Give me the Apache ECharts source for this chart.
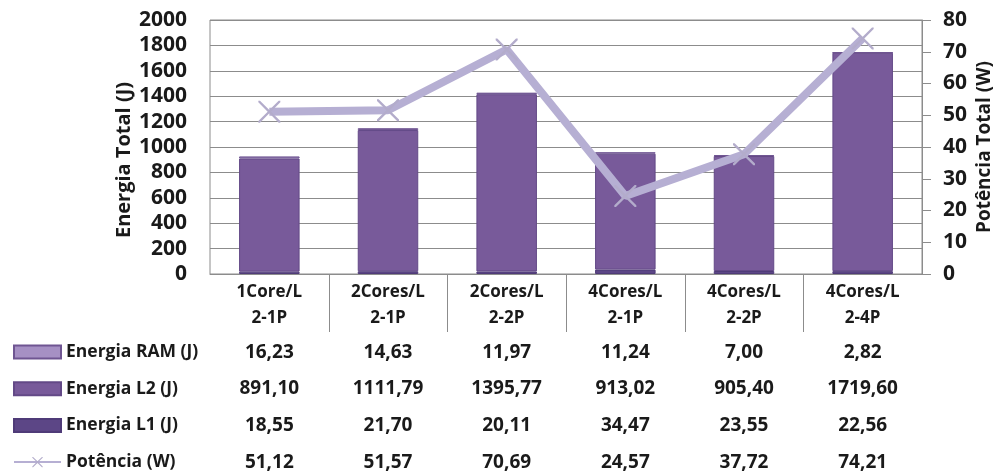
<!DOCTYPE html>
<html><head><meta charset="utf-8">
<script src="https://cdn.jsdelivr.net/npm/echarts@6/dist/echarts.min.js"></script>
<style>html,body{margin:0;padding:0;background:#fff}#c{width:993px;height:473px}</style>
</head><body><div id="c"></div>
<script>
const categories = ['1Core/L\n2-1P', '2Cores/L\n2-1P', '2Cores/L\n2-2P', '4Cores/L\n2-1P', '4Cores/L\n2-2P', '4Cores/L\n2-4P'];
const energiaRAM = [16.23, 14.63, 11.97, 11.24, 7.00, 2.82];
const energiaL2 = [891.10, 1111.79, 1395.77, 913.02, 905.40, 1719.60];
const energiaL1 = [18.55, 21.70, 20.11, 34.47, 23.55, 22.56];
const potencia = [51.12, 51.57, 70.69, 24.57, 37.72, 74.21];
const leftTicks = {min: 0, max: 2000, interval: 200};
const rightTicks = {min: 0, max: 80, interval: 10};

const FONT = 'Open Sans';
const TXT = '#1a1a1a';
const fmt = v => v.toFixed(2).replace('.', ',');
const xPath = 'path://M0,0 L1.5,0 L10,8.5 L18.5,0 L20,0 L20,1.5 L11.5,10 L20,18.5 L20,20 L18.5,20 L10,11.5 L1.5,20 L0,20 L0,18.5 L8.5,10 L0,1.5 Z';

const chart = echarts.init(document.getElementById('c'));
const option = {
  animation: false,
  backgroundColor: '#fff',
  textStyle: {fontFamily: FONT},
  grid: {left: 210, right: 71, top: 20, bottom: 199, show: true, borderColor: '#8c8c8c', borderWidth: 1, containLabel: false, outerBoundsMode: 'none'},
  legend: {
    orient: 'vertical', left: 13, top: 342, bottom: 0, padding: 0,
    itemWidth: 47, itemHeight: 13, itemGap: 16.7,
    data: [
      {name: 'Energia RAM (J)', icon: 'rect'},
      {name: 'Energia L2 (J)', icon: 'rect'},
      {name: 'Energia L1 (J)', icon: 'rect'},
      {name: 'Potência (W)'}
    ],
    textStyle: {fontFamily: FONT, fontWeight: 'bold', fontSize: 17.5, color: TXT, lineHeight: 20}
  },
  xAxis: {
    type: 'category', data: categories,
    axisLine: {show: true, lineStyle: {color: '#8c8c8c'}},
    axisTick: {show: false},
    axisLabel: {
      margin: 5, interval: 0,
      formatter: function (val, idx) {
        const p = val.split('\n');
        return '{c|' + p[0] + '}\n{c|' + p[1] + '}\n{s| }\n{v|' + fmt(energiaRAM[idx]) + '}\n{v|' + fmt(energiaL2[idx]) + '}\n{v|' + fmt(energiaL1[idx]) + '}\n{v|' + fmt(potencia[idx]) + '}';
      },
      rich: {
        c: {fontFamily: FONT, fontSize: 17, fontWeight: 'bold', color: TXT, lineHeight: 26, align: 'center'},
        s: {fontSize: 1, lineHeight: 3},
        v: {fontFamily: FONT, fontSize: 19, fontWeight: 'bold', color: TXT, lineHeight: 36.7, align: 'center'}
      }
    }
  },
  yAxis: [
    {
      type: 'value', min: leftTicks.min, max: leftTicks.max, interval: leftTicks.interval,
      name: 'Energia Total (J)', nameLocation: 'middle', nameGap: 76, nameMoveOverlap: false,
      nameTextStyle: {fontFamily: FONT, fontWeight: 'bold', fontSize: 20, color: TXT, padding: [0, 26, 0, 0]},
      axisLine: {show: false}, axisTick: {show: false},
      axisLabel: {margin: 23, fontFamily: FONT, fontWeight: 'bold', fontSize: 21, color: TXT, formatter: v => String(v)},
      splitLine: {show: true, lineStyle: {color: '#8c8c8c', width: 1}}
    },
    {
      type: 'value', min: rightTicks.min, max: rightTicks.max, interval: rightTicks.interval,
      name: 'Potência Total (W)', nameLocation: 'middle', nameGap: 53, nameMoveOverlap: false,
      nameTextStyle: {fontFamily: FONT, fontWeight: 'bold', fontSize: 19, color: TXT},
      axisLine: {show: true, lineStyle: {color: '#8c8c8c'}},
      axisTick: {show: true, length: 9, lineStyle: {color: '#8c8c8c'}},
      axisLabel: {margin: 21, fontFamily: FONT, fontWeight: 'bold', fontSize: 21, color: TXT, formatter: v => String(v)},
      splitLine: {show: false}
    }
  ],
  series: [
    {name: 'Energia L1 (J)', type: 'bar', stack: 'e', data: energiaL1, barWidth: '51%', itemStyle: {color: '#5c4686', borderColor: '#4f3b78', borderWidth: 1}},
    {name: 'Energia L2 (J)', type: 'bar', stack: 'e', data: energiaL2, itemStyle: {color: '#785a9a', borderColor: '#634987', borderWidth: 1}},
    {name: 'Energia RAM (J)', type: 'bar', stack: 'e', data: energiaRAM, itemStyle: {color: '#a690c4', borderColor: '#6f5592', borderWidth: 1}},
    {name: 'Potência (W)', type: 'line', yAxisIndex: 1, data: potencia, z: 5,
      symbol: xPath, symbolSize: 22, showAllSymbol: true,
      itemStyle: {color: '#b3accb'},
      lineStyle: {color: '#b6afd3', width: 8}}
  ]
};
chart.setOption(option);

// table separators between categories
const lines = [];
for (let i = 0; i < categories.length - 1; i++) {
  const a = chart.convertToPixel({xAxisIndex: 0}, i);
  const b = chart.convertToPixel({xAxisIndex: 0}, i + 1);
  const x = Math.round((a + b) / 2) + 0.5;
  const y0 = chart.convertToPixel({yAxisIndex: 0}, leftTicks.min);
  lines.push({type: 'line', shape: {x1: x, y1: y0, x2: x, y2: y0 + 58}, style: {stroke: '#8c8c8c', lineWidth: 1}, silent: true});
}
chart.setOption({graphic: lines});
</script></body></html>
